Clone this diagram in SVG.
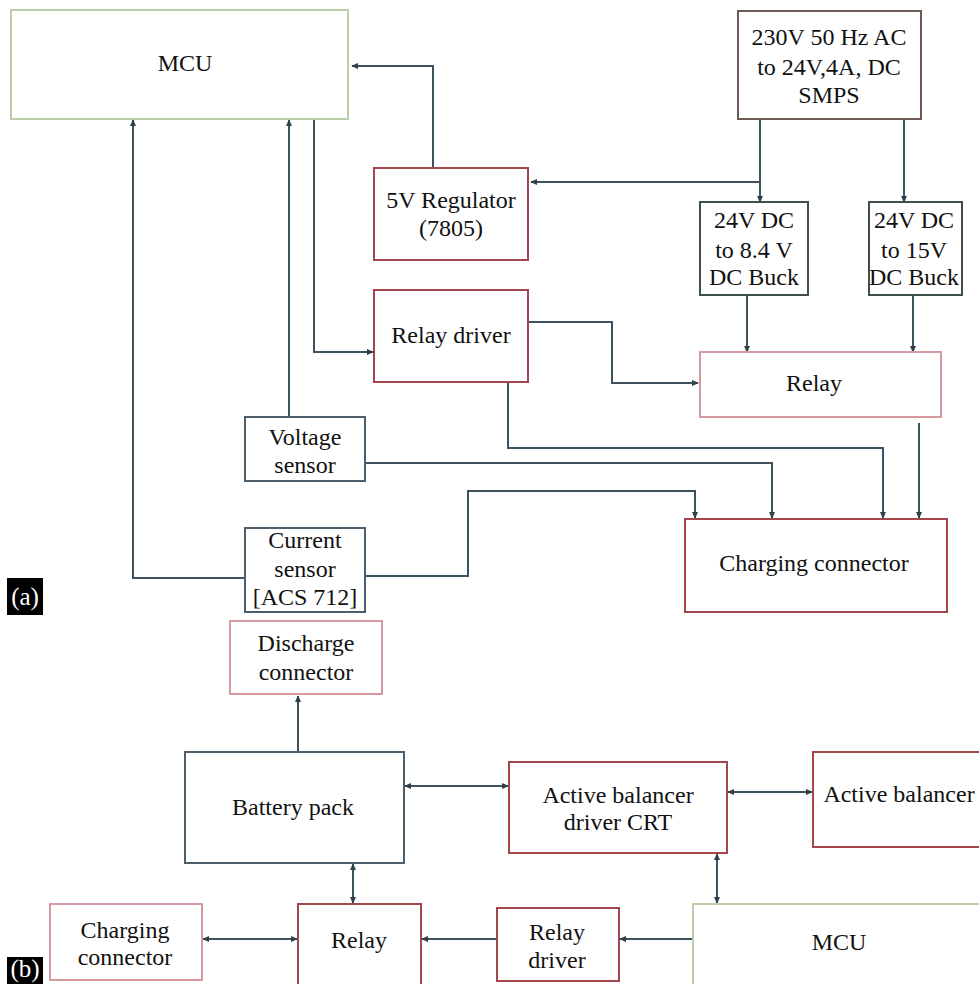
<svg xmlns="http://www.w3.org/2000/svg" width="979" height="984" viewBox="0 0 979 984">
<style>
.t{font-family:"Liberation Serif","Tinos","DejaVu Serif",serif;font-size:24px;fill:#111;text-anchor:middle}
.box{fill:#fff;stroke-width:2}
.red{stroke:#a5464c}
.pink{stroke:#d59aa0}
.green{stroke:#bccfa8}
.blue{stroke:#4c5f6a}
.brown{stroke:#6e5a52}
.dark{stroke:#3f4f4a}
.c{fill:none;stroke:#3d525c;stroke-width:2}
.lab{fill:#000}
.labt{font-family:"Liberation Serif","Tinos","DejaVu Serif",serif;font-size:25px;fill:#fff;text-anchor:middle}
</style>
<defs>
<marker id="ah" viewBox="0 0 8 8" refX="7" refY="4" markerWidth="7" markerHeight="7" markerUnits="userSpaceOnUse" orient="auto-start-reverse">
<path d="M0,0.5 L8,4 L0,7.5 z" fill="#2e4048"/>
</marker>
</defs>
<rect width="979" height="984" fill="#fff"/>

<g id="connectors">
<path class="c" d="M433,168 V66 H352" marker-end="url(#ah)"/>
<path class="c" d="M760,119 V202" marker-end="url(#ah)"/>
<path class="c" d="M760,182 H531" marker-end="url(#ah)"/>
<path class="c" d="M904,119 V202" marker-end="url(#ah)"/>
<path class="c" d="M747,295 V352" marker-end="url(#ah)"/>
<path class="c" d="M913,295 V352" marker-end="url(#ah)"/>
<path class="c" d="M314,119 V352 H373" marker-end="url(#ah)"/>
<path class="c" d="M528,322 H612 V383 H698" marker-end="url(#ah)"/>
<path class="c" d="M508,381 V448 H883 V518" marker-end="url(#ah)"/>
<path class="c" d="M919,423 V518" marker-end="url(#ah)"/>
<path class="c" d="M365,463 H772 V518" marker-end="url(#ah)"/>
<path class="c" d="M365,576 H468 V491 H695 V518" marker-end="url(#ah)"/>
<path class="c" d="M289,417 V120" marker-end="url(#ah)"/>
<path class="c" d="M245,578 H133 V120" marker-end="url(#ah)"/>
<path class="c" d="M298,752 V696" marker-end="url(#ah)"/>
<path class="c" d="M405,786 H508" marker-start="url(#ah)" marker-end="url(#ah)"/>
<path class="c" d="M728,792 H812" marker-start="url(#ah)" marker-end="url(#ah)"/>
<path class="c" d="M717,854 V903" marker-start="url(#ah)" marker-end="url(#ah)"/>
<path class="c" d="M353,864 V903" marker-start="url(#ah)" marker-end="url(#ah)"/>
<path class="c" d="M297,939 H203" marker-start="url(#ah)" marker-end="url(#ah)"/>
<path class="c" d="M497,939 H422" marker-end="url(#ah)"/>
<path class="c" d="M693,939 H620" marker-end="url(#ah)"/>
</g>

<g id="mcu-a"><rect class="box green" x="11" y="10" width="337" height="109"/><text class="t" x="185" y="71">MCU</text></g>
<g id="smps"><rect class="box brown" x="738" y="11" width="183" height="108"/><text class="t" x="829" y="45">230V 50 Hz AC</text><text class="t" x="829" y="75">to 24V,4A, DC</text><text class="t" x="829" y="103">SMPS</text></g>
<g id="regulator"><rect class="box red" x="374" y="168" width="154" height="92"/><text class="t" x="451" y="208">5V Regulator</text><text class="t" x="451" y="236">(7805)</text></g>
<g id="buck1"><rect class="box dark" x="700" y="202" width="108" height="93"/><text class="t" x="754" y="228">24V DC</text><text class="t" x="754" y="258">to 8.4 V</text><text class="t" x="754" y="285">DC Buck</text></g>
<g id="buck2"><rect class="box dark" x="869" y="202" width="93" height="93"/><text class="t" x="914" y="228">24V DC</text><text class="t" x="914" y="258">to 15V</text><text class="t" x="914" y="285">DC Buck</text></g>
<g id="relay-driver-a"><rect class="box red" x="374" y="290" width="154" height="92"/><text class="t" x="451" y="343">Relay driver</text></g>
<g id="relay-a"><rect class="box pink" x="700" y="352" width="241" height="65"/><text class="t" x="814" y="391">Relay</text></g>
<g id="voltage-sensor"><rect class="box blue" x="245" y="417" width="120" height="64"/><text class="t" x="305" y="445">Voltage</text><text class="t" x="305" y="473">sensor</text></g>
<g id="current-sensor"><rect class="box blue" x="245" y="528" width="120" height="84"/><text class="t" x="305" y="548">Current</text><text class="t" x="305" y="577">sensor</text><text class="t" x="305" y="605">[ACS 712]</text></g>
<g id="charging-connector-a"><rect class="box red" x="685" y="519" width="262" height="93"/><text class="t" x="814" y="571">Charging connector</text></g>
<g id="label-a"><rect class="lab" x="7" y="578" width="36" height="37"/><text class="labt" x="25" y="605">(a)</text></g>

<g id="discharge-connector"><rect class="box pink" x="230" y="621" width="152" height="73"/><text class="t" x="306" y="651">Discharge</text><text class="t" x="306" y="680">connector</text></g>
<g id="battery-pack"><rect class="box blue" x="185" y="752" width="219" height="111"/><text class="t" x="293" y="815">Battery pack</text></g>
<g id="balancer-driver"><rect class="box red" x="509" y="762" width="218" height="91"/><text class="t" x="618" y="803">Active balancer</text><text class="t" x="618" y="830">driver CRT</text></g>
<g id="active-balancer"><rect class="box red" x="813" y="752" width="180" height="95"/><text class="t" x="899" y="802">Active balancer</text></g>
<g id="charging-connector-b"><rect class="box pink" x="50" y="904" width="152" height="76"/><text class="t" x="125" y="938">Charging</text><text class="t" x="125" y="965">connector</text></g>
<g id="relay-b"><rect class="box red" x="298" y="904" width="123" height="90"/><text class="t" x="359" y="948">Relay</text></g>
<g id="relay-driver-b"><rect class="box red" x="497" y="908" width="122" height="73"/><text class="t" x="557" y="940">Relay</text><text class="t" x="557" y="968">driver</text></g>
<g id="mcu-b"><rect class="box green" x="693" y="904" width="300" height="100"/><text class="t" x="839" y="950">MCU</text></g>
<g id="label-b"><rect class="lab" x="7" y="957" width="36" height="30"/><text class="labt" x="25" y="977" font-size="22">(b)</text></g>
</svg>
